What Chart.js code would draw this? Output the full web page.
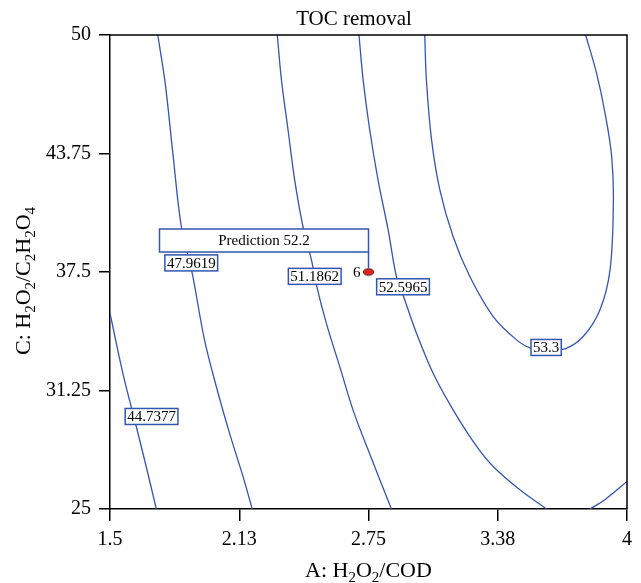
<!DOCTYPE html>
<html>
<head>
<meta charset="utf-8">
<script src="https://cdn.jsdelivr.net/npm/chart.js@4.4.1/dist/chart.umd.min.js"></script>
<style>
  body { margin: 0; background: #fff; }
  #wrap { width: 641px; height: 583px; }
</style>
</head>
<body>
<div id="wrap"><canvas id="myChart" width="641" height="583"></canvas></div>
<script>
// TOC removal contours, A (H2O2/COD) vs C (H2O2/C2H2O4)
const levelLabels = ['44.7377', '47.9619', '51.1862', '52.5965', '53.3'];

const line44 = [[1.50, 35.33], [1.562, 32.17], [1.627, 29.35], [1.675, 27.24], [1.724, 25]];
const line48 = [[1.731, 50], [1.767, 47.45], [1.804, 43.76], [1.845, 39.89], [1.896, 37.52],
  [1.957, 33.92], [2.014, 31.46], [2.078, 29.00], [2.143, 26.72], [2.188, 25]];
const line51 = [[2.309, 50], [2.329, 47.63], [2.361, 44.99], [2.393, 42.36], [2.433, 39.90],
  [2.474, 38.14], [2.498, 36.82], [2.546, 34.80], [2.611, 32.51], [2.675, 30.23],
  [2.748, 28.12], [2.861, 25]];
const line52 = [[2.704, 50], [2.724, 47.63], [2.756, 44.99], [2.796, 42.36], [2.845, 39.72],
  [2.885, 37.26], [2.917, 36.29], [2.982, 34.27], [3.062, 32.17], [3.159, 30.23],
  [3.273, 28.30], [3.353, 27.24], [3.482, 26.01], [3.611, 25]];
const line52b = [[3.821, 25], [3.893, 25.49], [4.0, 26.45]];
const line53 = [[3.022, 50], [3.030, 47.63], [3.055, 44.47], [3.095, 41.83], [3.159, 39.37],
  [3.240, 37.26], [3.353, 35.15], [3.466, 33.92], [3.531, 33.50], [3.613, 33.42],
  [3.700, 33.45], [3.788, 34.10], [3.869, 35.50], [3.918, 37.61], [3.934, 41.13],
  [3.926, 43.58], [3.894, 45.87], [3.853, 47.98], [3.800, 50]];

// where each level's value tag sits (A, C)
const levelLabelAt = [[1.701, 29.88], [1.893, 37.98], [2.490, 37.27], [2.917, 36.72], [3.609, 33.52]];

const runPoint = [2.75, 37.5];
const runLabel = '6';
const prediction = 52.2;

const xTicks = [1.5, 2.125, 2.75, 3.375, 4];
const xTickLabels = ['1.5', '2.13', '2.75', '3.38', '4'];
const yTicks = [25, 31.25, 37.5, 43.75, 50];
const yTickLabels = ['25', '31.25', '37.5', '43.75', '50'];

const azul = '#3456b0';
const serif = "'Liberation Serif', 'Times New Roman', serif";

function toPts(arr) {
  return arr.map(p => ({ x: p[0], y: p[1] }));
}

function contour(arr) {
  return {
    data: toPts(arr),
    showLine: true,
    borderColor: azul,
    borderWidth: 1.3,
    pointRadius: 0,
    tension: 0.35,
    fill: false
  };
}

// red ellipse for the design point
const dot = document.createElement('canvas');
dot.width = 13; dot.height = 9;
(function () {
  const c = dot.getContext('2d');
  c.beginPath();
  c.ellipse(6.5, 4.5, 5.3, 3.3, 0, 0, Math.PI * 2);
  c.fillStyle = '#e3231f';
  c.fill();
  c.lineWidth = 1;
  c.strokeStyle = '#4a0f0f';
  c.stroke();
})();

// text with "_2" style subscripts
function richText(ctx, txt, x, y, size, align) {
  const parts = [];
  txt.split(/(_\d)/).forEach(p => {
    if (!p) return;
    if (p[0] === '_') parts.push([p.slice(1), true]);
    else parts.push([p, false]);
  });
  const sub = size * 0.68;
  let w = 0;
  parts.forEach(p => {
    ctx.font = (p[1] ? sub : size) + 'px ' + serif;
    w += ctx.measureText(p[0]).width;
  });
  let cx = align === 'center' ? x - w / 2 : x;
  ctx.textAlign = 'left';
  ctx.textBaseline = 'alphabetic';
  parts.forEach(p => {
    ctx.font = (p[1] ? sub : size) + 'px ' + serif;
    ctx.fillText(p[0], cx, p[1] ? y + size * 0.24 : y);
    cx += ctx.measureText(p[0]).width;
  });
}

function tag(ctx, txt, cx, cy) {
  ctx.font = '15px ' + serif;
  const w = ctx.measureText(txt).width + 4;
  const h = 16;
  ctx.fillStyle = '#fff';
  ctx.fillRect(cx - w / 2, cy - h / 2, w, h);
  ctx.strokeStyle = azul;
  ctx.lineWidth = 1.5;
  ctx.strokeRect(cx - w / 2, cy - h / 2, w, h);
  ctx.fillStyle = '#000';
  ctx.textAlign = 'center';
  ctx.textBaseline = 'middle';
  ctx.fillText(txt, cx, cy + 1);
}

const marcos = {
  id: 'marcos',
  afterDatasetsDraw(chart) {
    const ctx = chart.ctx;
    const xs = chart.scales.x, ys = chart.scales.y;
    ctx.save();
    levelLabels.forEach((t, i) => {
      tag(ctx, t, xs.getPixelForValue(levelLabelAt[i][0]), ys.getPixelForValue(levelLabelAt[i][1]));
    });

    // prediction flag over the design point
    const px = xs.getPixelForValue(runPoint[0]);
    const py = ys.getPixelForValue(runPoint[1]);
    const bw = 209, bh = 23, gap = 20;
    ctx.fillStyle = '#fff';
    ctx.fillRect(px - bw, py - gap - bh, bw, bh);
    ctx.strokeStyle = azul;
    ctx.lineWidth = 1.5;
    ctx.strokeRect(px - bw, py - gap - bh, bw, bh);
    ctx.beginPath();
    ctx.moveTo(px, py - gap);
    ctx.lineTo(px, py - 3.5);
    ctx.stroke();
    ctx.fillStyle = '#000';
    ctx.font = '15px ' + serif;
    ctx.textAlign = 'center';
    ctx.textBaseline = 'middle';
    ctx.fillText('Prediction ' + prediction, px - bw / 2, py - gap - bh / 2 + 1);
    ctx.textAlign = 'right';
    ctx.fillText(runLabel, px - 8, py + 1);
    ctx.restore();
  },
  afterDraw(chart) {
    const ctx = chart.ctx;
    const a = chart.chartArea;
    ctx.save();
    ctx.strokeStyle = '#000';
    ctx.lineWidth = 1.5;
    ctx.beginPath();
    ctx.moveTo(a.left, a.top);
    ctx.lineTo(a.right, a.top);
    ctx.lineTo(a.right, a.bottom);
    ctx.stroke();

    ctx.fillStyle = '#000';
    ctx.font = '21px ' + serif;
    ctx.textAlign = 'center';
    ctx.textBaseline = 'alphabetic';
    ctx.fillText('TOC removal', 354, 25);

    richText(ctx, 'A: H_2O_2/COD', (a.left + a.right) / 2, 577, 22, 'center');

    ctx.translate(30, 281);
    ctx.rotate(-Math.PI / 2);
    richText(ctx, 'C: H_2O_2/C_2H_2O_4', 0, 0, 22, 'center');
    ctx.restore();
  }
};

const tickFont = { family: serif, size: 20 };

new Chart(document.getElementById('myChart'), {
  type: 'scatter',
  data: {
    datasets: [
      contour(line44),
      contour(line48),
      contour(line51),
      contour(line52),
      contour(line52b),
      contour(line53),
      {
        data: [{ x: runPoint[0], y: runPoint[1] }],
        pointStyle: dot,
        pointRadius: 6
      }
    ]
  },
  options: {
    responsive: false,
    animation: false,
    layout: { padding: { top: 35, right: 14, left: 0, bottom: 0 } },
    plugins: {
      legend: { display: false },
      tooltip: { enabled: false }
    },
    scales: {
      x: {
        type: 'linear',
        min: 1.5,
        max: 4,
        afterBuildTicks: s => { s.ticks = xTicks.map(v => ({ value: v })); },
        afterFit: s => { s.height = 74; },
        ticks: {
          callback: (v, i) => xTickLabels[i],
          color: '#000',
          font: tickFont,
          padding: 7,
          maxRotation: 0,
          autoSkip: false
        },
        grid: { drawOnChartArea: false, drawTicks: true, tickLength: 12, color: '#000', lineWidth: 1.5 },
        border: { color: '#000', width: 1.5 }
      },
      y: {
        type: 'linear',
        min: 25,
        max: 50,
        afterBuildTicks: s => { s.ticks = yTicks.map(v => ({ value: v })); },
        afterFit: s => { s.width = 110; },
        ticks: {
          callback: (v, i) => yTickLabels[i],
          color: '#000',
          font: tickFont,
          padding: 8,
          autoSkip: false
        },
        grid: { drawOnChartArea: false, drawTicks: true, tickLength: 11, color: '#000', lineWidth: 1.5 },
        border: { color: '#000', width: 1.5 }
      }
    }
  },
  plugins: [marcos]
});
</script>
</body>
</html>
